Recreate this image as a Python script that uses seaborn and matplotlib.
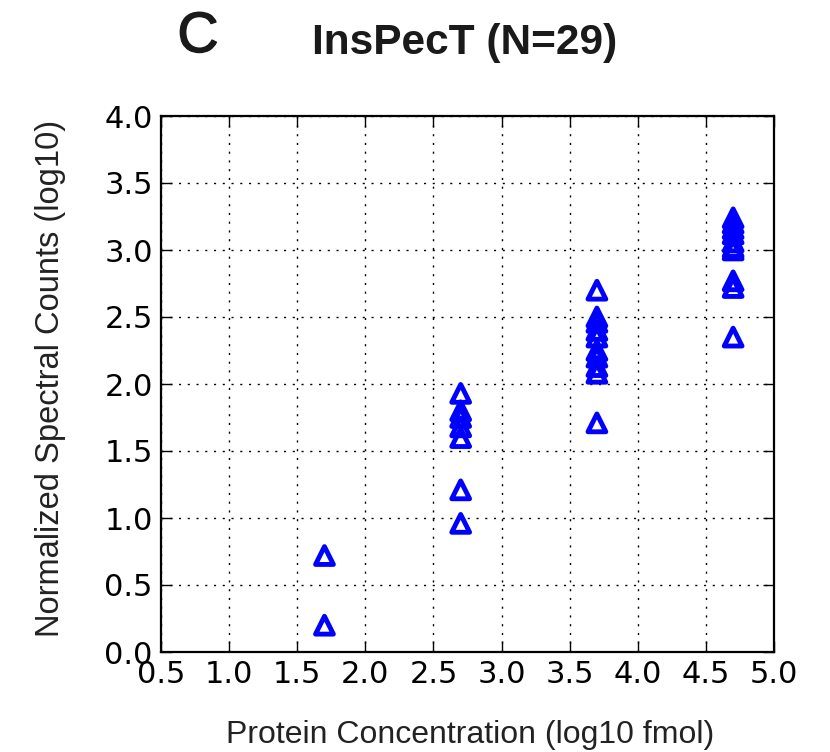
import matplotlib
matplotlib.use("Agg")
import matplotlib.pyplot as plt
import matplotlib.patheffects as pe
import seaborn as sns
import numpy as np
import pandas as pd

# ---- data ----
conc_levels = [1.7, 2.7, 3.7, 4.7]
counts_17 = [0.72, 0.20]
counts_27 = [1.93, 1.80, 1.75, 1.68, 1.60, 1.21, 0.96]
counts_37 = [2.70, 2.50, 2.46, 2.40, 2.35, 2.25, 2.20, 2.13, 2.08, 1.71]
counts_47 = [3.24, 3.20, 3.16, 3.12, 3.06, 3.02, 3.00, 2.77, 2.72, 2.35]
x_ticks = [0.5, 1.0, 1.5, 2.0, 2.5, 3.0, 3.5, 4.0, 4.5, 5.0]
y_ticks = [0.0, 0.5, 1.0, 1.5, 2.0, 2.5, 3.0, 3.5, 4.0]
title_text = "InsPecT (N=29)"
panel_letter = "C"
x_label = "Protein Concentration (log10 fmol)"
y_label = "Normalized Spectral Counts (log10)"

groups = [counts_17, counts_27, counts_37, counts_47]
df = pd.DataFrame({
    "conc": [c for c, g in zip(conc_levels, groups) for _ in g],
    "count": [v for g in groups for v in g],
})

sns.set_theme(style="white")
plt.rcParams["font.family"] = ["DejaVu Sans"]

fig = plt.figure(figsize=(8.30, 7.52), dpi=100)
ax = fig.add_axes([161 / 830, 1 - 652 / 752, (774 - 161) / 830, (652 - 116) / 752])

sns.scatterplot(data=df, x="conc", y="count", ax=ax, marker="^", s=165,
                facecolors="none", edgecolors="#0000ff", linewidth=3.5,
                legend=False, zorder=3)

ax.set_xlim(0.5, 5.0)
ax.set_ylim(0.0, 4.0)
ax.set_xticks(x_ticks)
ax.set_yticks(y_ticks)
ax.set_xticklabels([f"{t:.1f}" for t in x_ticks])
ax.set_yticklabels([f"{t:.1f}" for t in y_ticks])
ax.tick_params(axis="both", which="both", direction="in", length=8, width=1,
               colors="black", labelsize=22, top=True, right=True,
               bottom=True, left=True, pad=6)
ax.grid(True, color="black", linestyle=(0, (1.5, 4.8)), linewidth=1.0)
for sp in ax.spines.values():
    sp.set_color("black")
    sp.set_linewidth(1.6)
ax.set_xlabel("")
ax.set_ylabel("")

lab_font = dict(family=["Liberation Sans", "DejaVu Sans"], fontsize=23, color="#222222")
fig.text(470 / 830, 1 - 735 / 752, x_label, ha="center", va="center", **lab_font)
fig.text(50 / 830, 1 - 378 / 752, y_label, ha="center", va="center", rotation=90,
         family=["Liberation Sans", "DejaVu Sans"], fontsize=23.5, color="#222222")

fig.text(465 / 830, 1 - 54 / 752, title_text, ha="center", va="baseline",
         family=["Liberation Sans", "DejaVu Sans"], fontsize=30.5, fontweight="bold", color="#1a1a1a")
fig.text(198 / 830, 1 - 52 / 752, panel_letter, ha="center", va="baseline",
         family=["Liberation Sans", "DejaVu Sans"], fontsize=41, color="#1a1a1a",
         path_effects=[pe.withStroke(linewidth=1.0, foreground="#1a1a1a")])

fig.savefig("out.png", dpi=100)
